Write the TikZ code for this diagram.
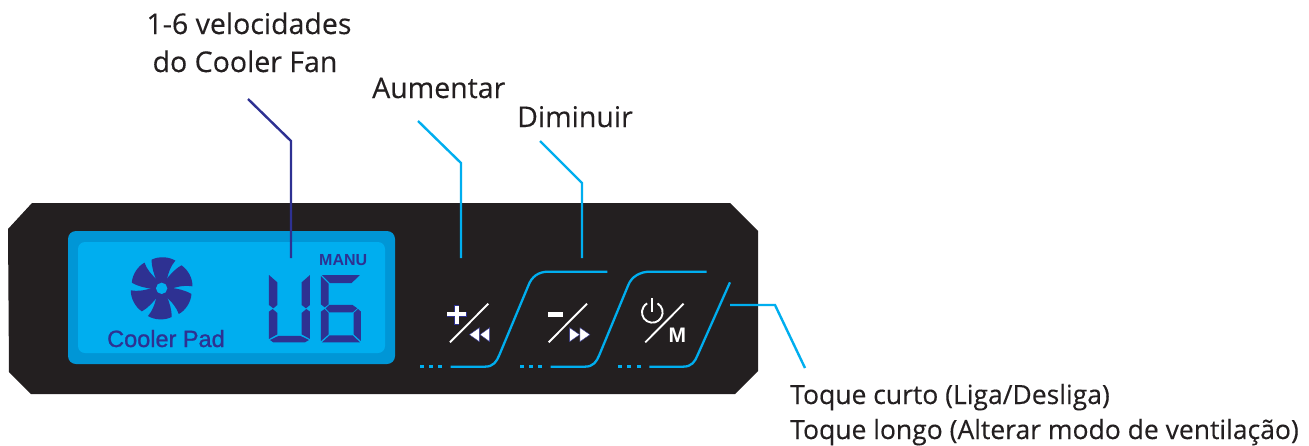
\documentclass[tikz,border=0pt]{standalone}
\usepackage{fontspec}
\setmainfont[FakeBold=0.25]{Open Sans}
\newfontfamily\lcdfont[FakeBold=1.0]{Liberation Sans}
\newfontfamily\lcdbold{Liberation Sans Bold}
\definecolor{panel}{HTML}{231F20}
\definecolor{lcdout}{HTML}{0096D6}
\definecolor{lcdin}{HTML}{00AEEF}
\definecolor{ink}{HTML}{2E3192}
\tikzset{
  labbig/.style={font=\fontsize{28.5}{28.5}\selectfont,text=panel,inner sep=0pt,anchor=base west},
  labc/.style={font=\fontsize{28.5}{28.5}\selectfont,text=panel,inner sep=0pt,anchor=base},
  lab/.style={font=\fontsize{26.5}{26.5}\selectfont,text=panel,inner sep=0pt,anchor=base west},
  leadc/.style={draw=lcdin,line width=2.4pt,line join=miter},
  leadd/.style={draw=ink,line width=2.4pt},
  btn/.style={draw=lcdin,line width=2.3pt},
  icon/.style={draw=white,line width=1.9pt},
  seg/.style={fill=ink,draw=none},
  zoomA/.style={shift={(60,225)},x=0.3333pt,y=-0.3333pt},
  zoomB/.style={shift={(410,255)},x=0.3333pt,y=-0.3333pt}
}
\begin{document}
\begin{tikzpicture}[x=1pt,y=-1pt]
\useasboundingbox[fill=white] (0,0) rectangle (1309,445);
% panel
\fill[panel] (32,203) -- (730,203) -- (758,231) -- (758,371) -- (735,394) -- (31,394) -- (9,372) -- (8,229) -- cycle;
% LCD
\fill[lcdout,rounded corners=8pt] (68,231) rectangle (395,364);
\fill[lcdin,rounded corners=7pt] (78,242) rectangle (385,353);
% zoom-1 coordinates
\begin{scope}[zoomA]
  % fan
  \foreach \a in {0,60,...,300}{
    \begin{scope}[shift={(305,190)},rotate=\a]
      \fill[ink] (-14,-20) .. controls (-24,-45) and (-30,-62) .. (-30,-86)
        .. controls (-8,-97) and (22,-95) .. (41,-83)
        .. controls (28,-68) and (20,-48) .. (15,-22) -- cycle;
    \end{scope}
  }
  \fill[ink] (305,190) circle[radius=32];
  \fill[lcdin] (305,190) circle[radius=17];
  % U
  \fill[seg] (627,150) -- (652,172) -- (652,240) -- (640,250) -- (627,240) -- cycle;
  \fill[seg] (627,260) -- (638,252) -- (652,264) -- (652,328) -- (627,342) -- cycle;
  \fill[seg] (640,352) -- (630,345) -- (655,333) -- (722,333) -- (747,345) -- (735,352) -- cycle;
  \fill[seg] (750,150) -- (725,172) -- (725,240) -- (738,250) -- (750,240) -- cycle;
  \fill[seg] (750,260) -- (739,252) -- (725,264) -- (725,328) -- (750,342) -- cycle;
  % 6
  \fill[seg] (786,150) -- (900,150) -- (875,174) -- (810,174) -- cycle;
  \fill[seg] (783,153) -- (806,176) -- (806,238) -- (794,247) -- (783,238) -- cycle;
  \fill[seg] (797,250) -- (808,240) -- (878,240) -- (892,250) -- (878,262) -- (808,262) -- cycle;
  \fill[seg] (783,260) -- (794,252) -- (806,264) -- (806,328) -- (783,348) -- cycle;
  \fill[seg] (786,352) -- (809,331) -- (878,331) -- (900,352) -- cycle;
  \fill[seg] (903,260) -- (894,252) -- (881,264) -- (881,328) -- (903,348) -- cycle;
\end{scope}
\node[font=\lcdfont\fontsize{23.5}{23.5}\selectfont,text=ink,inner sep=0pt,anchor=base west] (pad) at (107,347) {Cooler Pad};
\node[font=\lcdbold\fontsize{16}{16}\selectfont,text=ink,inner sep=0pt,anchor=base west] (manu) at (319,265) {MANU};
% buttons
\begin{scope}[zoomB]
  \draw[btn] (122,335) -- (225,335) .. controls (250,335) and (260,320) .. (268,300) -- (355,92) .. controls (365,65) and (385,50) .. (415,50) -- (592,50);
  \draw[btn] (422,335) -- (525,335) .. controls (550,335) and (560,320) .. (568,300) -- (655,90) .. controls (665,65) and (690,50) .. (720,50) -- (890,50);
  \draw[btn] (718,335) -- (820,335) .. controls (845,335) and (855,320) .. (863,300) -- (960,82);
  \foreach \x in {30,58,85,330,358,385,625,652,680}
    \fill[lcdin] (\x,331) rectangle ++(12,8);
  % plus / rewind
  \draw[icon] (120,262) -- (235,146);
  \draw[ink,line width=0.4pt] (112,172) rectangle (168,184);
  \draw[ink,line width=0.4pt] (134,152) rectangle (146,207);
  \fill[white] (112,172) rectangle (168,184);
  \fill[white] (134,152) rectangle (146,207);
  \fill[white,draw=ink,line width=0.4pt] (208,218) -- (208,260) -- (178,239) -- cycle;
  \fill[white,draw=ink,line width=0.4pt] (239,218) -- (239,260) -- (210,239) -- cycle;
  % minus / forward
  \draw[icon] (416,262) -- (531,146);
  \fill[white] (414,170) rectangle (460,186);
  \fill[white,draw=ink,line width=0.4pt] (479,218) -- (479,260) -- (509,239) -- cycle;
  \fill[white,draw=ink,line width=0.4pt] (510,218) -- (510,260) -- (540,239) -- cycle;
  % power / M
  \draw[icon] (706,262) -- (821,146);
  \draw[icon] (727,172) ++(-60:31) arc[start angle=-60,end angle=240,radius=31];
  \draw[icon] (727,130) -- (727,170);
\end{scope}
\node[font=\lcdbold\fontsize{21}{21}\selectfont,text=white,inner sep=0pt,anchor=base west] (mode) at (668.5,342.5) {M};
% labels
\node[labc] (speed1) at (249,34) {1-6 velocidades};
\node[labc] (speed2) at (245,72) {do Cooler Fan};
\node[labbig] (up) at (372,98) {Aumentar};
\node[labbig] (down) at (517,127) {Diminuir};
\node[lab] (touch1) at (790,404) {Toque curto (Liga/Desliga)};
\node[lab] (touch2) at (790,439) {Toque longo (Alterar modo de ventilação)};
% leaders
\coordinate (fanA) at (248,99); \coordinate (fanB) at (291,141); \coordinate (fanC) at (291,258);
\coordinate (upA) at (418,121); \coordinate (upB) at (461,163); \coordinate (upC) at (461,258);
\coordinate (dnA) at (540,141); \coordinate (dnB) at (582,183); \coordinate (dnC) at (582,258);
\coordinate (tcA) at (730,305); \coordinate (tcB) at (775,305); \coordinate (tcC) at (805,368);
\draw[leadd] (fanA) -- (fanB) -- (fanC);
\draw[leadc] (upA) -- (upB) -- (upC);
\draw[leadc] (dnA) -- (dnB) -- (dnC);
\draw[leadc] (tcA) -- (tcB) -- (tcC);
\end{tikzpicture}
\end{document}
